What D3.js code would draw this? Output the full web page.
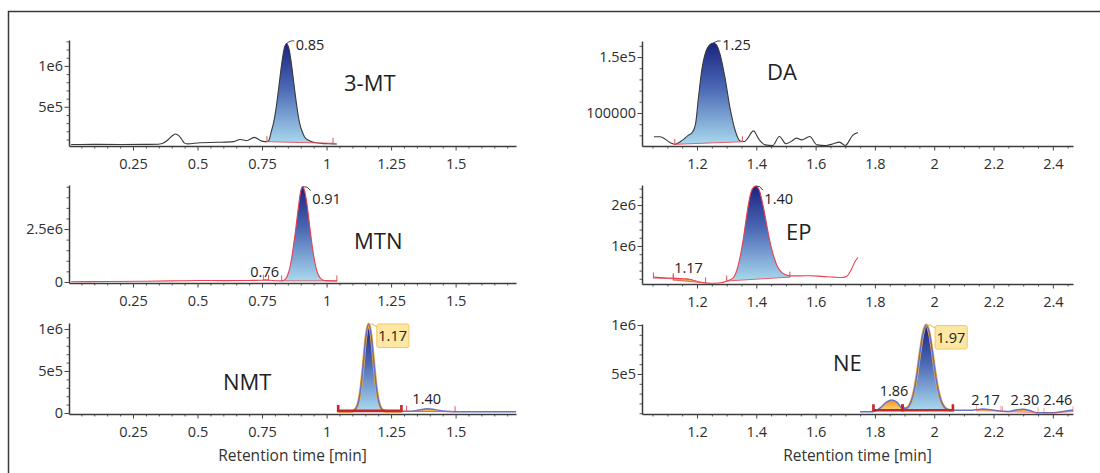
<!DOCTYPE html>
<html>
<head>
<meta charset="utf-8">
<script src="https://cdn.jsdelivr.net/npm/d3@7/dist/d3.min.js"></script>
<style>
html,body{margin:0;padding:0;background:#fff;}
svg{display:block;}
</style>
</head>
<body>
<svg id="chart" width="1100" height="473"></svg>
<script>
// ---------------- DATA ----------------
const compounds = ['3-MT', 'MTN', 'NMT', 'DA', 'EP', 'NE'];
const axisTitle = 'Retention time [min]';

const leftXTicks = [0.25, 0.5, 0.75, 1, 1.25, 1.5];
const leftXLabels = ['0.25', '0.5', '0.75', '1', '1.25', '1.5'];
const rightXTicks = [1.2, 1.4, 1.6, 1.8, 2, 2.2, 2.4];
const rightXLabels = ['1.2', '1.4', '1.6', '1.8', '2', '2.2', '2.4'];

const mt3YTicks = [5e5, 1e6];   const mt3YLabels = ['5e5', '1e6'];
const mtnYTicks = [0, 2.5e6];   const mtnYLabels = ['0', '2.5e6'];
const nmtYTicks = [0, 5e5, 1e6]; const nmtYLabels = ['0', '5e5', '1e6'];
const daYTicks = [1e5, 1.5e5];  const daYLabels = ['100000', '1.5e5'];
const epYTicks = [1e6, 2e6];    const epYLabels = ['1e6', '2e6'];
const neYTicks = [5e5, 1e6];    const neYLabels = ['5e5', '1e6'];

// chromatogram traces: [retention time (min), intensity]
const mt3Trace = [[0.01,3.8e4],[0.1,4.0e4],[0.2,3.9e4],[0.3,4.0e4],[0.348,4.2e4],[0.37,6.0e4],[0.387,1.0e5],[0.40,1.4e5],[0.415,1.67e5],[0.428,1.45e5],[0.439,1.0e5],[0.45,5.5e4],[0.46,4.6e4],[0.51,6.0e4],[0.575,6.5e4],[0.64,7.3e4],[0.665,1.0e5],[0.69,8.5e4],[0.72,1.26e5],[0.749,8.0e4],[0.768,7.3e4],[0.777,9.3e4],[0.785,1.88e5],[0.795,3.08e5],[0.805,4.95e5],[0.815,7.4e5],[0.825,9.98e5],[0.835,1.2e6],[0.845,1.275e6],[0.855,1.2e6],[0.865,9.98e5],[0.875,7.4e5],[0.885,5.0e5],[0.895,3.1e5],[0.905,2.0e5],[0.915,1.3e5],[0.93,9.0e4],[0.95,6.5e4],[0.98,5.2e4],[1.01,4.8e4],[1.04,4.4e4]];
const mtnTrace = [[0.01,0.01e6],[0.15,0.02e6],[0.3,0.03e6],[0.4,0.05e6],[0.5,0.07e6],[0.6,0.06e6],[0.7,0.07e6],[0.75,0.08e6],[0.765,0.1e6],[0.78,0.08e6],[0.825,0.05e6],[0.84,0.12e6],[0.85,0.35e6],[0.86,0.8e6],[0.87,1.55e6],[0.88,2.45e6],[0.89,3.45e6],[0.90,4.3e6],[0.907,4.5e6],[0.915,4.3e6],[0.925,3.6e6],[0.935,2.6e6],[0.945,1.65e6],[0.955,0.9e6],[0.965,0.42e6],[0.975,0.2e6],[0.985,0.09e6],[0.995,0.06e6],[1.04,0.05e6]];
const nmtTrace = [[1.045,0.02e6],[1.09,0.02e6],[1.103,0.026e6],[1.113,0.049e6],[1.123,0.125e6],[1.133,0.307e6],[1.143,0.607e6],[1.153,0.922e6],[1.163,1.06e6],[1.173,0.922e6],[1.183,0.607e6],[1.193,0.307e6],[1.203,0.125e6],[1.213,0.049e6],[1.223,0.026e6],[1.24,0.02e6],[1.30,0.02e6],[1.33,0.02e6],[1.36,0.035e6],[1.39,0.05e6],[1.42,0.04e6],[1.46,0.02e6],[1.50,0.015e6],[1.6,0.015e6],[1.734,0.015e6]];
const daTrace = [[1.055,78800],[1.075,78800],[1.11,73500],[1.125,72000],[1.15,75500],[1.17,80000],[1.185,83000],[1.195,90000],[1.205,114000],[1.216,138000],[1.23,155000],[1.24,160000],[1.255,162500],[1.265,161000],[1.278,152000],[1.294,132000],[1.311,105000],[1.328,85000],[1.345,75000],[1.36,74500],[1.37,77000],[1.39,84000],[1.41,76000],[1.43,71500],[1.455,71000],[1.478,79000],[1.50,72500],[1.52,75000],[1.535,77500],[1.553,76000],[1.58,79000],[1.605,71500],[1.635,71000],[1.66,72500],[1.68,74000],[1.70,71000],[1.725,80000],[1.743,82500]];
const epTrace = [[1.053,0.24e6],[1.10,0.22e6],[1.13,0.21e6],[1.16,0.20e6],[1.175,0.19e6],[1.19,0.16e6],[1.21,0.12e6],[1.235,0.095e6],[1.26,0.09e6],[1.285,0.11e6],[1.31,0.17e6],[1.325,0.25e6],[1.335,0.42e6],[1.345,0.72e6],[1.355,1.12e6],[1.365,1.62e6],[1.375,2.08e6],[1.385,2.37e6],[1.398,2.46e6],[1.41,2.36e6],[1.42,2.08e6],[1.43,1.72e6],[1.44,1.32e6],[1.45,0.98e6],[1.46,0.72e6],[1.47,0.52e6],[1.48,0.40e6],[1.495,0.31e6],[1.515,0.27e6],[1.55,0.27e6],[1.58,0.275e6],[1.62,0.26e6],[1.66,0.24e6],[1.69,0.23e6],[1.705,0.26e6],[1.72,0.42e6],[1.733,0.62e6],[1.743,0.72e6]];
const neTrace = [[1.75,0.115e6],[1.78,0.115e6],[1.80,0.12e6],[1.82,0.16e6],[1.84,0.215e6],[1.857,0.235e6],[1.875,0.21e6],[1.89,0.155e6],[1.903,0.15e6],[1.913,0.167e6],[1.923,0.226e6],[1.933,0.341e6],[1.943,0.523e6],[1.953,0.742e6],[1.963,0.926e6],[1.973,1.0e6],[1.983,0.926e6],[1.993,0.742e6],[2.003,0.523e6],[2.013,0.341e6],[2.023,0.226e6],[2.033,0.167e6],[2.043,0.141e6],[2.06,0.13e6],[2.08,0.13e6],[2.12,0.13e6],[2.14,0.135e6],[2.165,0.143e6],[2.19,0.135e6],[2.22,0.122e6],[2.25,0.118e6],[2.28,0.135e6],[2.30,0.14e6],[2.32,0.13e6],[2.345,0.105e6],[2.40,0.105e6],[2.44,0.12e6],[2.468,0.133e6]];

// integrated peaks: [start time, baseline at start, end time, baseline at end]
const mt3Peaks = [[0.769,7.3e4,1.025,5.3e4]];
const mtnPeaks = [[0.755,0.08e6,0.775,0.08e6],[0.826,0.05e6,1.04,0.05e6]];
const nmtPeaks = [[1.045,0.025e6,1.29,0.025e6],[1.31,0.02e6,1.498,0.015e6]];
const daPeaks  = [[1.125,72000,1.353,74300]];
const epPeaks  = [[1.053,0.22e6,1.12,0.2e6],[1.12,0.17e6,1.229,0.1e6],[1.3,0.146e6,1.513,0.24e6]];
const nePeaks  = [[1.795,0.13e6,1.893,0.13e6],[1.893,0.13e6,2.063,0.13e6],[2.143,0.125e6,2.225,0.12e6],[2.23,0.115e6,2.35,0.105e6],[2.37,0.1e6,2.468,0.115e6]];

// peak labels: [time, intensity, text] (centre of text baseline)
const mt3Labels = [[0.936,1.195e6,'0.85']];
const mtnLabels = [[1.0,3.66e6,'0.91'],[0.76,0.21e6,'0.76']];
const nmtLabels = [[1.256,0.851e6,'1.17'],[1.388,0.107e6,'1.40']];
const daLabels  = [[1.3332,156260,'1.25']];
const epLabels  = [[1.4755,2.025e6,'1.40'],[1.1713,0.334e6,'1.17']];
const neLabels  = [[2.0563,0.816e6,'1.97'],[1.8645,0.279e6,'1.86'],[2.173,0.184e6,'2.17'],[2.306,0.184e6,'2.30'],[2.417,0.184e6,'2.46']];

// ---------------- DRAWING ----------------
const W = 1100, H = 473;
const FONT = "'Open Sans', 'Noto Sans', sans-serif";
const svg = d3.select('#chart');
const defs = svg.append('defs');

svg.append('rect').attr('x', 8.5).attr('y', 11.5).attr('width', 1120).attr('height', 520)
  .attr('fill', 'none').attr('stroke', '#3a3a3a').attr('stroke-width', 1.5);

const LEFT = {xDom: [0.002, 1.734], xRange: [69, 516], xT: leftXTicks, xL: leftXLabels};
const RIGHT = {xDom: [1.0145, 2.468], xRange: [642, 1073], xT: rightXTicks, xL: rightXLabels};

const panels = [
  {side: LEFT, name: compounds[0], trace: mt3Trace, peaks: mt3Peaks, labels: mt3Labels, yT: mt3YTicks, yL: mt3YLabels,
   yDom: [2e4, 1.317e6], yRange: [146, 40], yMinor: 1e5, line: '#3a3a3a', lw: 1.1,
   styles: [{fill: 'blue'}], namePos: [344, 91]},
  {side: LEFT, name: compounds[1], trace: mtnTrace, peaks: mtnPeaks, labels: mtnLabels, yT: mtnYTicks, yL: mtnYLabels,
   yDom: [-0.05e6, 4.58e6], yRange: [283, 185], yMinor: 0.5e6, line: '#e8404f', lw: 1.1,
   styles: [{fill: null}, {fill: 'blue'}], namePos: [354, 249]},
  {side: LEFT, name: compounds[2], trace: nmtTrace, peaks: nmtPeaks, labels: nmtLabels, yT: nmtYTicks, yL: nmtYLabels,
   yDom: [-0.012e6, 1.071e6], yRange: [414, 323], yMinor: 1e5, line: '#6a70c2', lw: 1.5,
   styles: [{fill: 'blue', bracket: true, outline: true}, {fill: 'orange'}], namePos: [223, 390], box: true, title: true},
  {side: RIGHT, name: compounds[3], trace: daTrace, peaks: daPeaks, labels: daLabels, yT: daYTicks, yL: daYLabels,
   yDom: [70500, 164300], yRange: [146, 41], yMinor: 1e4, line: '#3a3a3a', lw: 1.1,
   styles: [{fill: 'blue'}], namePos: [767, 80]},
  {side: RIGHT, name: compounds[4], trace: epTrace, peaks: epPeaks, labels: epLabels, yT: epYTicks, yL: epYLabels,
   yDom: [0.073e6, 2.488e6], yRange: [284, 185], yMinor: 2e5, line: '#e8404f', lw: 1.1,
   styles: [{fill: 'orange'}, {fill: 'orange'}, {fill: 'blue'}], namePos: [786, 240]},
  {side: RIGHT, name: compounds[5], trace: neTrace, peaks: nePeaks, labels: neLabels, yT: neYTicks, yL: neYLabels,
   yDom: [0.092e6, 1.01e6], yRange: [414, 324], yMinor: 1e5, line: '#6a70c2', lw: 1.5,
   styles: [{fill: 'orange', bracket: true}, {fill: 'blue', bracket: true, outline: true}, {fill: 'orange', faint: true}, {fill: 'orange', faint: true}, {fill: 'orange', faint: true}],
   namePos: [833, 371], box: true, title: true}
];

const GRADS = {
  blue: [['0%', '#1a2380'], ['45%', '#4c69b5'], ['100%', '#a9d9ee']],
  orange: [['0%', '#f0901a'], ['100%', '#fdd77a']]
};

let uid = 0;
function styleAxis(sel) {
  sel.attr('font-family', FONT).attr('font-size', 14.5).attr('color', '#2e2e2e');
  sel.select('.domain').attr('stroke', '#3c3c3c').attr('stroke-width', 1.5);
  sel.selectAll('.tick line').attr('stroke', '#444');
}

panels.forEach(p => {
  const g = svg.append('g');
  const x = d3.scaleLinear().domain(p.side.xDom).range(p.side.xRange);
  const y = d3.scaleLinear().domain(p.yDom).range(p.yRange);
  const bottom = p.yRange[0];

  // ---- x axis ----
  const xMinor = d3.range(Math.ceil(p.side.xDom[0] / 0.05), Math.floor(p.side.xDom[1] / 0.05) + 1)
    .map(k => +(k * 0.05).toFixed(3))
    .filter(v => !p.side.xT.some(t => Math.abs(t - v) < 1e-6));
  g.append('g').attr('transform', `translate(0,${bottom})`)
    .call(d3.axisBottom(x).tickValues(xMinor).tickSize(2.5).tickFormat(''))
    .call(s => { s.select('.domain').remove(); s.selectAll('line').attr('stroke', '#555'); });
  g.append('g').attr('transform', `translate(0,${bottom})`)
    .call(d3.axisBottom(x).tickValues(p.side.xT).tickFormat((d, i) => p.side.xL[i]).tickSize(4.5).tickPadding(8.5).tickSizeOuter(0))
    .call(styleAxis);

  // ---- y axis ----
  const k0 = Math.ceil(p.yDom[0] / p.yMinor), k1 = Math.floor(p.yDom[1] / p.yMinor);
  const yMinor = d3.range(k0, k1 + 1).map(k => k * p.yMinor)
    .filter(v => !p.yT.some(t => Math.abs(t - v) < p.yMinor * 1e-3));
  g.append('g').attr('transform', `translate(${p.side.xRange[0]},0)`)
    .call(d3.axisLeft(y).tickValues(yMinor).tickSize(2.5).tickFormat(''))
    .call(s => { s.select('.domain').remove(); s.selectAll('line').attr('stroke', '#555'); });
  g.append('g').attr('transform', `translate(${p.side.xRange[0]},0)`)
    .call(d3.axisLeft(y).tickValues(p.yT).tickFormat((d, i) => p.yL[i]).tickSize(4.5).tickPadding(1.5).tickSizeOuter(0))
    .call(styleAxis);

  const line = d3.line().x(d => x(d[0])).y(d => y(d[1])).curve(d3.curveMonotoneX);

  // ---- peak fills ----
  p.peaks.forEach((pk, i) => {
    const st = p.styles[i];
    if (!st.fill) return;
    const [t0, b0, t1, b1] = pk;
    const base = t => b0 + (b1 - b0) * (t - t0) / (t1 - t0);
    const clipId = 'clip' + (uid++);
    defs.append('clipPath').attr('id', clipId).append('rect')
      .attr('x', x(t0)).attr('y', 0).attr('width', x(t1) - x(t0)).attr('height', H);
    const inside = p.trace.filter(d => d[0] >= t0 && d[0] <= t1);
    const top = inside.length ? d3.max(inside, d => d[1]) : Math.max(b0, b1);
    const gradId = 'grad' + (uid++);
    const gr = defs.append('linearGradient').attr('id', gradId).attr('gradientUnits', 'userSpaceOnUse')
      .attr('x1', 0).attr('x2', 0).attr('y1', y(top)).attr('y2', y(Math.min(b0, b1)));
    GRADS[st.fill].forEach(s => gr.append('stop').attr('offset', s[0]).attr('stop-color', s[1]));
    const area = d3.area().x(d => x(d[0]))
      .y0(d => y(base(d[0])))
      .y1(d => y(Math.max(d[1], base(d[0]))))
      .curve(d3.curveMonotoneX);
    g.append('path').datum(p.trace).attr('d', area).attr('fill', `url(#${gradId})`)
      .attr('clip-path', `url(#${clipId})`);
    if (st.outline) {
      g.append('path').datum(p.trace).attr('d', line).attr('fill', 'none')
        .attr('stroke', '#f3b13a').attr('stroke-width', 2.8).attr('clip-path', `url(#${clipId})`);
    }
  });

  // ---- trace ----
  g.append('path').datum(p.trace).attr('d', line).attr('fill', 'none')
    .attr('stroke', p.line).attr('stroke-width', p.lw).attr('stroke-linejoin', 'round');

  // ---- baselines / brackets ----
  p.peaks.forEach((pk, i) => {
    const st = p.styles[i];
    const [t0, b0, t1, b1] = pk;
    if (st.bracket) {
      g.append('path')
        .attr('d', `M${x(t0)},${y(b0) - 6}V${y(b0)}L${x(t1)},${y(b1)}V${y(b1) - 6}`)
        .attr('fill', 'none').attr('stroke', '#c1272d').attr('stroke-width', 2.6);
    } else {
      const op = st.faint ? 0.55 : 1;
      g.append('line').attr('x1', x(t0)).attr('y1', y(b0)).attr('x2', x(t1)).attr('y2', y(b1))
        .attr('stroke', '#e4505a').attr('stroke-width', 0.9).attr('opacity', op);
      [[t0, b0], [t1, b1]].forEach(([t, b]) => {
        g.append('line').attr('x1', x(t)).attr('x2', x(t)).attr('y1', y(b) + 0.5).attr('y2', y(b) - 5.5)
          .attr('stroke', '#e4505a').attr('stroke-width', 1).attr('opacity', op);
      });
    }
  });

  // ---- peak labels ----
  const apex = p.trace.reduce((a, d) => d[1] > a[1] ? d : a);
  p.labels.forEach((lb, i) => {
    const tx = x(lb[0]), ty = y(lb[1]);
    const t = g.append('text').attr('x', tx).attr('y', ty).attr('text-anchor', 'middle')
      .attr('font-family', FONT).attr('font-size', 14.5).attr('fill', '#222').text(lb[2]);
    if (i === 0) {
      const bb = t.node().getBBox();
      const ax = x(apex[0]), ay = y(apex[1]);
      let ex, ey;
      if (p.box) {
        const rx = bb.x - 1.5, ry = ty - 17.5;
        g.insert('rect', () => t.node()).attr('x', rx).attr('y', ry).attr('width', bb.width + 3.5).attr('height', 23.5)
          .attr('rx', 2).attr('fill', '#fde7a2').attr('stroke', '#f3c768').attr('stroke-width', 1);
        ex = rx; ey = ay + 3;
        g.append('path').attr('d', `M${ax},${ay}Q${(ax + ex) / 2},${ay - 1} ${ex},${ey}`)
          .attr('fill', 'none').attr('stroke', '#f0b040').attr('stroke-width', 1);
      } else {
        ex = bb.x - 1.5; ey = Math.min(ay + 4, ty - 9);
        g.append('path').attr('d', `M${ax},${ay}Q${(ax + ex) / 2 + 1},${Math.min(ay, ey) - 1} ${ex},${ey}`)
          .attr('fill', 'none').attr('stroke', '#333').attr('stroke-width', 0.9);
      }
    }
  });

  // ---- compound name ----
  g.append('text').attr('x', p.namePos[0]).attr('y', p.namePos[1])
    .attr('font-family', FONT).attr('font-size', 22).attr('fill', '#222').text(p.name);

  // ---- axis title ----
  if (p.title) {
    g.append('text').attr('x', (p.side.xRange[0] + p.side.xRange[1]) / 2).attr('y', 460.5)
      .attr('text-anchor', 'middle').attr('font-family', FONT).attr('font-size', 15.5)
      .attr('fill', '#333').text(axisTitle);
  }
});
</script>
</body>
</html>
